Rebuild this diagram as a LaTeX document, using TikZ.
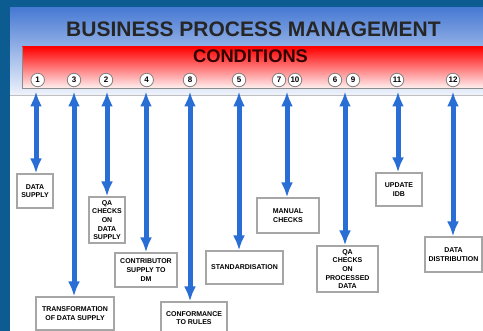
\documentclass[tikz,border=0pt]{standalone}
\usepackage{fontspec}
\setmainfont{Liberation Sans}
\usepackage{tikz}
\usetikzlibrary{arrows.meta}
\usetikzlibrary{positioning}
\tikzset{>={Latex[length=15pt,width=12pt]}}
\definecolor{framebg}{RGB}{12,92,146}
\definecolor{headtop}{RGB}{72,122,212}
\definecolor{arrowblue}{RGB}{40,110,212}

\begin{document}
\begin{tikzpicture}[x=1pt,y=-1pt,
    stepbox/.style={draw=black!35, line width=1.2pt, fill=white, align=center,
        font=\fontsize{7}{8.6}\selectfont\bfseries, inner sep=1pt},
    num/.style={circle, draw=black!50, fill=white, line width=0.8pt,
        minimum size=13.5pt, inner sep=0pt, font=\fontsize{8}{8}\selectfont\bfseries},
    flow/.style={<->, arrowblue, line width=5pt}]
    \useasboundingbox (0,0) rectangle (483,331);
    % frame and header
    \fill[framebg] (0,0) rectangle (483,331);
    \fill[white] (10,8) rectangle (483,331);
    \shade[top color=headtop, bottom color=headtop!8] (10,8) rectangle (483,96);
    \shade[top color=red, middle color=red!80, bottom color=red!6] (22,47) rectangle (483,88);
    \draw[black!45, line width=0.8pt] (22,47) -- (22,88) -- (483,88);
    \draw[black!25, line width=1pt] (10,95.5) -- (483,95.5);
    \node[font=\fontsize{21}{21}\selectfont\bfseries, text=black!85] (title) at (253.5,29.5) {BUSINESS PROCESS MANAGEMENT};
    \node[font=\fontsize{18.3}{18}\selectfont\bfseries, text=red!20!black] (cond) at (250.5,56.5) {CONDITIONS};
    % numbered conditions
    \foreach \n/\x in {1/37.7,3/74,2/106,4/146.7,8/190,5/239,7/279,10/295,6/335,9/353,11/397,12/453}
        \node[num] (c\n) at (\x,80) {\n};
    \foreach \n/\x in {1/36,3/74,2/107,4/146,8/190,5/239,710/287,69/345,11/398,12/453}
        \coordinate (t\n) at (\x,91.5);
    % steps
    \node[stepbox, minimum width=36pt, minimum height=34pt] (supply) at (35,191) {DATA\\SUPPLY};
    \node[stepbox, minimum width=36pt, minimum height=46pt] (qasupply) at (107,220) {QA\\CHECKS\\ON\\DATA\\SUPPLY};
    \node[stepbox, minimum width=62pt, minimum height=34pt] (contrib) at (146,270) {CONTRIBUTOR\\SUPPLY TO\\DM};
    \node[stepbox, minimum width=78pt, minimum height=33pt] (transf) at (75,313.5) {TRANSFORMATION\\OF DATA SUPPLY};
    \node[stepbox, minimum width=66pt, minimum height=32pt] (conform) at (194,318) {CONFORMANCE\\TO RULES};
    \node[stepbox, minimum width=77pt, minimum height=33pt] (stand) at (244.5,267.5) {STANDARDISATION};
    \node[stepbox, minimum width=62pt, minimum height=35pt] (manual) at (288,215.5) {MANUAL\\CHECKS};
    \node[stepbox, minimum width=61pt, minimum height=46pt] (qaproc) at (347.5,269) {QA\\CHECKS\\ON\\PROCESSED\\DATA};
    \node[stepbox, minimum width=46pt, minimum height=33pt] (update) at (399,189.5) {UPDATE\\IDB};
    \node[stepbox, minimum width=57pt, minimum height=35pt] (distrib) at (453.5,254.5) {DATA\\DISTRIBUTION};
    % arrows
    \draw[flow] (t1) -- (t1 |- supply.north);
    \draw[flow] (t3) -- (t3 |- transf.north);
    \draw[flow] (t2) -- (t2 |- qasupply.north);
    \draw[flow] (t4) -- (t4 |- contrib.north);
    \draw[flow] (t8) -- (t8 |- conform.north);
    \draw[flow] (t5) -- (t5 |- stand.north);
    \draw[flow] (t710) -- (t710 |- manual.north);
    \draw[flow] (t69) -- (t69 |- qaproc.north);
    \draw[flow] (t11) -- (t11 |- update.north);
    \draw[flow] (t12) -- (t12 |- distrib.north);
\end{tikzpicture}
\end{document}
